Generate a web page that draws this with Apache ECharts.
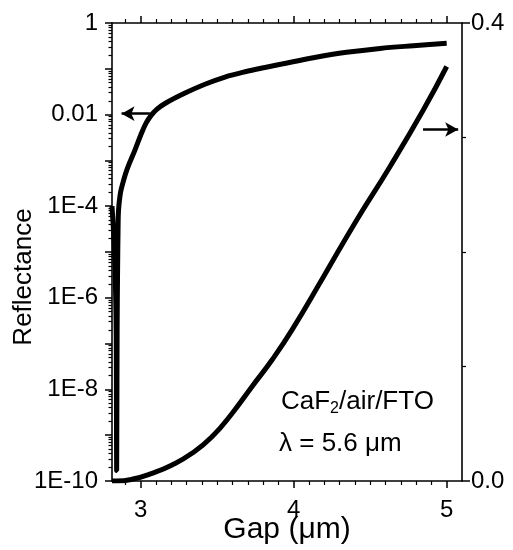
<!DOCTYPE html>
<html>
<head>
<meta charset="utf-8">
<title>Reflectance vs gap</title>
<script src="https://cdn.jsdelivr.net/npm/echarts@6/dist/echarts.min.js"></script>
<style>
    html, body { margin: 0; padding: 0; background: #fff; }
    #chart { width: 513px; height: 550px; }
</style>
</head>
<body>
<div id="chart"></div>
<script>
    // reflectance curve plotted on the log axis (left)
    const gapLog = [2.8125, 2.82, 2.828, 2.835, 2.84, 2.843, 2.846, 2.849, 2.852, 2.855, 2.865, 2.876, 2.908,
        2.963, 3.0, 3.035, 3.072, 3.107, 3.159, 3.29, 3.42, 3.551, 3.682, 3.812, 3.922, 4.128, 4.346, 4.564, 4.782, 5.0];
    const reflLog = [1.0e-4, 4e-5, 1.2e-5, 2e-6, 1.5e-7, 1.7e-10, 2e-7, 4e-6, 3e-5, 8e-5, 1.7e-4, 2.6e-4, 6e-4,
        1.7e-3, 3.55e-3, 6.5e-3, 0.0100, 0.0132, 0.0175, 0.0295, 0.046, 0.066, 0.086, 0.107, 0.127, 0.174, 0.229, 0.279, 0.319, 0.36];

    // curve plotted on the linear axis (right)
    const gapLin = [2.8125, 2.843, 2.943, 3.074, 3.205, 3.335, 3.466, 3.597, 3.727, 3.858, 3.989,
        4.193, 4.412, 4.629, 4.847, 5.0];
    const reflLin = [0.0, 0.0, 0.0015, 0.0067, 0.014, 0.0242, 0.0387, 0.059, 0.0824, 0.1057, 0.132,
        0.178, 0.228, 0.2745, 0.324, 0.362];

    // ticks / labels
    const xTicks = [3, 4, 5];
    const logDecades = [1e-10, 1e-9, 1e-8, 1e-7, 1e-6, 1e-5, 1e-4, 1e-3, 1e-2, 1e-1, 1];
    const logLabelValues = [1e-10, 1e-8, 1e-6, 1e-4, 1e-2, 1];
    const logLabelText = ['1E-10', '1E-8', '1E-6', '1E-4', '0.01', '1'];

    // 2..9 inside each decade
    const logMinor = [];
    logDecades.slice(0, -1).forEach(function (d) {
        for (let m = 2; m <= 9; m++) {
            logMinor.push(m * d);
        }
    });

    const pair = (xs, ys) => xs.map((x, i) => [x, ys[i]]);

    const FONT = 'Liberation Sans, Arial, Helvetica, sans-serif';
    const INK = '#000';
    const axisLine = { show: true, onZero: false, lineStyle: { color: INK, width: 1.6 } };

    function xAxisDef (pos) {
        return {
            type: 'value',
            position: pos,
            min: 2.8125,
            max: 5.1,
            splitNumber: 2,
            axisLine: axisLine,
            axisTick: { show: true, customValues: xTicks, length: 7, lineStyle: { color: INK, width: 1.5 } },
            minorTick: { show: true, splitNumber: 10, length: 4, lineStyle: { color: INK, width: 1.2 } },
            axisLabel: pos === 'bottom'
                ? { show: true, customValues: xTicks, margin: 17, fontFamily: FONT, fontSize: 24, color: INK }
                : { show: false },
            splitLine: { show: false },
            minorSplitLine: { show: false }
        };
    }

    const chart = echarts.init(document.getElementById('chart'), null, { renderer: 'canvas' });

    const option = {
        animation: false,
        backgroundColor: '#fff',
        grid: { left: 112, right: 51, top: 23, bottom: 69, containLabel: false, outerBoundsMode: 'none' },
        xAxis: [
            Object.assign(xAxisDef('bottom'), {
                name: 'Gap (\u03bcm)',
                nameLocation: 'middle',
                nameGap: 34,
                nameMoveOverlap: false,
                nameTextStyle: { fontFamily: FONT, fontSize: 30, color: INK }
            }),
            xAxisDef('top')
        ],
        yAxis: [
            {
                type: 'log',
                logBase: 10,
                position: 'left',
                min: 1e-10,
                max: 1,
                name: 'Reflectance',
                nameLocation: 'middle',
                nameGap: 75,
                nameMoveOverlap: false,
                nameTextStyle: { fontFamily: FONT, fontSize: 26, color: INK, padding: [0, 50, 0, 0] },
                axisLine: axisLine,
                axisTick: { show: true, customValues: logDecades, length: 7, lineStyle: { color: INK, width: 1.5 } },
                axisLabel: {
                    show: true,
                    customValues: logLabelValues,
                    margin: 14,
                    fontFamily: FONT,
                    fontSize: 24,
                    color: INK,
                    formatter: function (v) {
                        const e = Math.round(Math.log10(v));
                        return logLabelText[(e + 10) / 2] || '';
                    }
                },
                splitLine: { show: false }
            },
            {
                // minor log ticks only
                type: 'log',
                logBase: 10,
                position: 'left',
                min: 1e-10,
                max: 1,
                axisLine: { show: false, onZero: false },
                axisTick: { show: true, customValues: logMinor, length: 3.5, lineStyle: { color: INK, width: 1.2 } },
                axisLabel: { show: false },
                splitLine: { show: false }
            },
            {
                type: 'value',
                position: 'right',
                min: 0,
                max: 0.4,
                interval: 0.4,
                axisLine: axisLine,
                axisTick: { show: true, length: 8, lineStyle: { color: INK, width: 1.5 } },
                minorTick: { show: true, splitNumber: 4, length: 4, lineStyle: { color: INK, width: 1.2 } },
                axisLabel: {
                    show: true,
                    margin: 9,
                    fontFamily: FONT,
                    fontSize: 24,
                    color: INK,
                    formatter: v => v.toFixed(1)
                },
                splitLine: { show: false },
                minorSplitLine: { show: false }
            }
        ],
        series: [
            {
                type: 'line',
                xAxisIndex: 0,
                yAxisIndex: 0,
                data: pair(gapLog, reflLog),
                showSymbol: false,
                smooth: 0.35,
                lineStyle: { color: INK, width: 5 },
                emphasis: { disabled: true },
                markLine: {
                    silent: true,
                    symbol: ['none', 'arrow'],
                    symbolSize: [11, 13],
                    label: { show: false },
                    lineStyle: { color: INK, width: 2.5, type: 'solid' },
                    data: [[{ coord: [3.06, 0.0105] }, { coord: [2.875, 0.0105] }]]
                }
            },
            {
                type: 'line',
                xAxisIndex: 0,
                yAxisIndex: 2,
                data: pair(gapLin, reflLin),
                showSymbol: false,
                smooth: 0.5,
                lineStyle: { color: INK, width: 5 },
                emphasis: { disabled: true },
                markLine: {
                    silent: true,
                    symbol: ['none', 'arrow'],
                    symbolSize: [11, 13],
                    label: { show: false },
                    lineStyle: { color: INK, width: 2.5, type: 'solid' },
                    data: [[{ coord: [4.845, 0.307] }, { coord: [5.075, 0.307] }]]
                }
            }
        ],
        graphic: [
            {
                type: 'text',
                left: 281,
                top: 386,
                style: {
                    text: '{t|CaF}{s|2}{t|/air/FTO}',
                    rich: {
                        t: { fontFamily: FONT, fontSize: 26, fill: INK, lineHeight: 30 },
                        s: { fontFamily: FONT, fontSize: 16, fill: INK, lineHeight: 30, padding: [15, 0, 0, 0] }
                    }
                }
            },
            {
                type: 'text',
                left: 279,
                top: 431,
                style: {
                    text: '\u03bb = 5.6 \u03bcm',
                    fontFamily: FONT,
                    fontSize: 26,
                    fill: INK
                }
            }
        ]
    };

    chart.setOption(option);
    window.addEventListener('resize', chart.resize);
</script>
</body>
</html>
